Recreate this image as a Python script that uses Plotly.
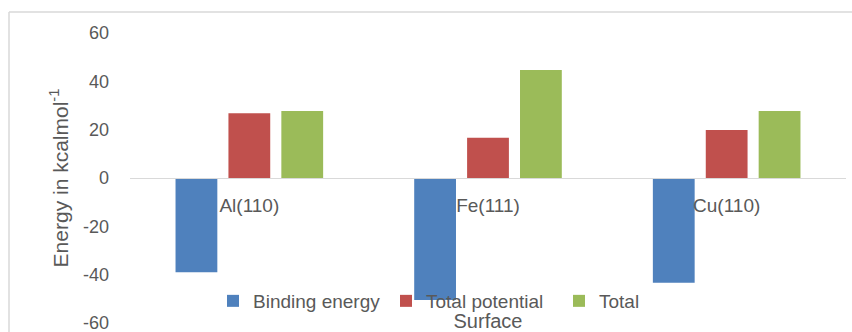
import plotly.graph_objects as go

categories = ["Al(110)", "Fe(111)", "Cu(110)"]
binding_energy = [-39.0, -50.5, -43.3]
total_potential = [26.8, 16.7, 19.9]
total = [27.7, 44.7, 27.7]
y_ticks = [-60, -40, -20, 0, 20, 40, 60]
y_tick_labels = ["-60", "-40", "-20", "0", "20", "40", "60"]

FONT = "Liberation Sans"
GRAY = "#595959"

fig = go.Figure()
fig.add_trace(go.Bar(name="Binding energy", x=categories, y=binding_energy,
                     marker=dict(color="#4F81BD", line=dict(width=0))))
fig.add_trace(go.Bar(name="Total potential", x=categories, y=total_potential,
                     marker=dict(color="#C0504D", line=dict(width=0))))
fig.add_trace(go.Bar(name="Total", x=categories, y=total,
                     marker=dict(color="#9BBB59", line=dict(width=0))))

L, R, T, B = 130, 6, 33, 9
W, H = 852, 332
pw, ph = W - L - R, H - T - B

fig.update_layout(
    width=W, height=H,
    margin=dict(l=L, r=R, t=T, b=B, autoexpand=False),
    paper_bgcolor="white", plot_bgcolor="white",
    barmode="group", bargap=0.335, bargroupgap=0.21,
    font=dict(family=FONT, color=GRAY, size=18),
    showlegend=True,
    legend=dict(orientation="h", x=(213 - L) / pw, xanchor="left",
                y=(H - B - 301) / ph, yanchor="middle",
                font=dict(size=19, color=GRAY), bgcolor="rgba(0,0,0,0)",
                entrywidthmode="pixels", entrywidth=128),
    xaxis=dict(anchor="free", position=0.5, showline=True, linecolor="#D9D9D9",
               linewidth=1, showgrid=False, ticks="", ticklabelstandoff=10,
               automargin=False,
               tickfont=dict(size=19, color=GRAY),
               title=dict(text="Surface", font=dict(size=20, color=GRAY), standoff=101)),
    yaxis=dict(range=[-60, 60], tickvals=y_ticks, ticktext=y_tick_labels,
               showgrid=False, zeroline=False, ticklabeloverflow="allow",
               showline=False, ticks="", ticklabelstandoff=20, automargin=False,
               tickfont=dict(size=18, color=GRAY),
               title=dict(text="Energy in kcalmol<sup>-1</sup>",
                          font=dict(size=21, color=GRAY), standoff=8)),
)

# chart frame (top and left edges)
fig.add_shape(type="line", xref="paper", yref="paper",
              x0=(9 - L) / pw, x1=(W - L) / pw, y0=(H - B - 12) / ph, y1=(H - B - 12) / ph,
              line=dict(color="#D9D9D9", width=1.5))
fig.add_shape(type="line", xref="paper", yref="paper",
              x0=(9 - L) / pw, x1=(9 - L) / pw, y0=(H - B - 12) / ph, y1=-0.2,
              line=dict(color="#D9D9D9", width=1.5))

fig.write_html("out.html")
